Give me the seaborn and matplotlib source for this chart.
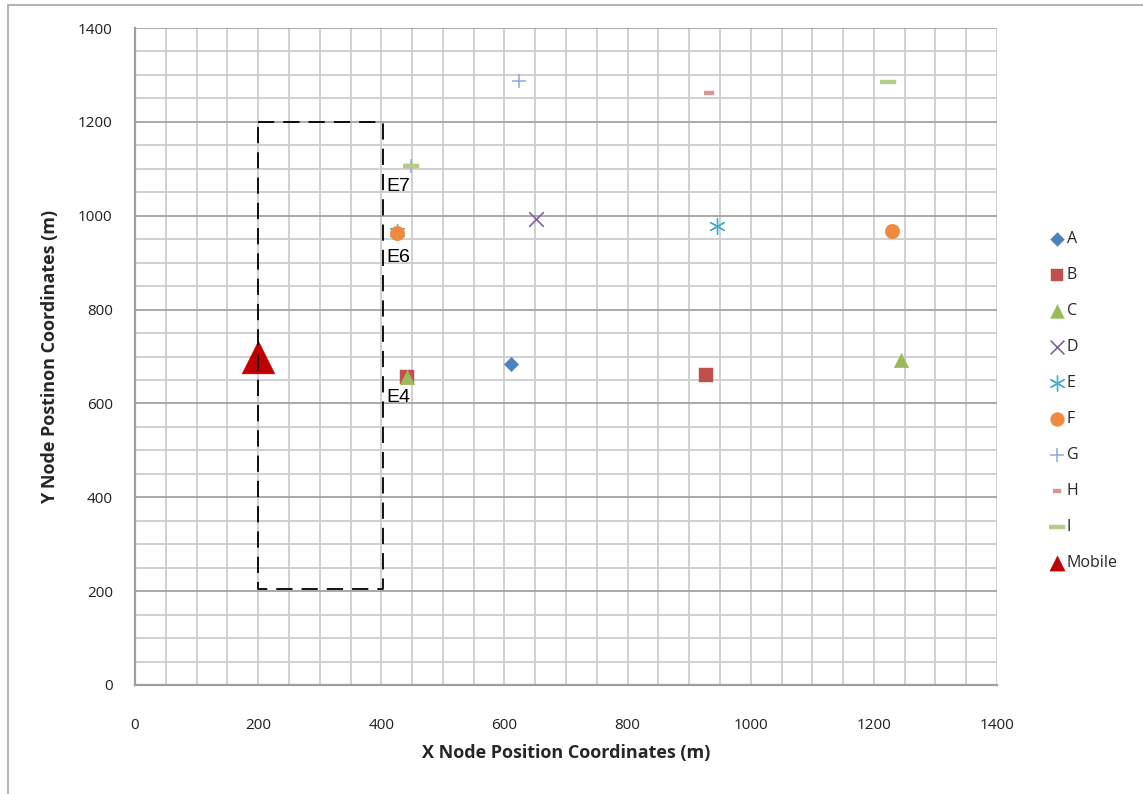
import numpy as np
import pandas as pd
import matplotlib
matplotlib.use("Agg")
import matplotlib.pyplot as plt
from matplotlib.patches import Rectangle
import seaborn as sns

sns.set_theme(style="white")
plt.rcParams["font.family"] = ["Open Sans", "DejaVu Sans"]

# Node positions per series (x, y in metres)
series = ["A", "B", "C", "D", "E", "F", "G", "H", "I", "Mobile"]
x_vals = {
    "A": [610],
    "B": [442, 928],
    "C": [442, 1244],
    "D": [652],
    "E": [425, 945],
    "F": [425, 1230],
    "G": [448, 623],
    "H": [448, 932],
    "I": [448, 1223],
    "Mobile": [200],
}
y_vals = {
    "A": [685],
    "B": [656, 660],
    "C": [656, 692],
    "D": [992],
    "E": [965, 978],
    "F": [963, 967],
    "G": [1106, 1287],
    "H": [1106, 1261],
    "I": [1106, 1284],
    "Mobile": [700],
}

# Annotated nodes
node_labels = ["E7", "E6", "E4"]
node_label_x = [408, 408, 408]
node_label_y = [1062, 912, 612]

# Coverage region of the mobile node
region_x = [200, 402]
region_y = [205, 1200]

colors = {
    "A": "#4F81BD", "B": "#C0504D", "C": "#9BBB59", "D": "#8064A2",
    "E": "#4BACC6", "F": "#F08A3E", "G": "#8EA9DB", "H": "#D99694",
    "I": "#B3CE8A", "Mobile": "#C00000",
}
bar_short = [(-1, -0.45), (1, -0.45), (1, 0.45), (-1, 0.45)]
bar_long = [(-1, -0.28), (1, -0.28), (1, 0.28), (-1, 0.28)]
markers = {
    "A": "D", "B": "s", "C": "^", "D": "x", "E": (6, 2, 0), "F": "o",
    "G": "+", "H": bar_short, "I": bar_long, "Mobile": "^",
}
sizes = {
    "A": 55, "B": 90, "C": 110, "D": 110, "E": 130, "F": 110,
    "G": 110, "H": 45, "I": 130, "Mobile": 560,
}
line_widths = {"D": 1.2, "E": 1.0, "G": 1.1}

fig = plt.figure(figsize=(11.43, 7.94), dpi=100)
ax = fig.add_axes([0.1181, 0.1373, 0.7542, 0.8274])

# outer chart frame
fig.patches.append(Rectangle((8 / 1143, -0.01), 1.02, 1 - 5 / 794 + 0.01,
                             transform=fig.transFigure, fill=False,
                             edgecolor="#A6A6A6", linewidth=1.2))

# grid: minor every 50, major horizontal lines every 200
for v in np.arange(50, 1401, 50):
    ax.axvline(v, color="#CDCDCD", linewidth=1.3, zorder=0)
for v in np.arange(50, 1401, 50):
    major = (v % 200 == 0)
    ax.axhline(v, color="#A3A3A3" if major else "#CDCDCD",
               linewidth=1.3, zorder=0)

for name in series:
    df = pd.DataFrame({"x": x_vals[name], "y": y_vals[name]})
    kw = dict(data=df, x="x", y="y", ax=ax, marker=markers[name],
              s=sizes[name], label=name, zorder=3, legend=False)
    if name in line_widths:
        sns.scatterplot(color=colors[name], linewidth=line_widths[name], **kw)
    else:
        sns.scatterplot(color=colors[name], edgecolor=colors[name],
                        linewidth=0.3, **kw)

# dashed region boundary
rx = [region_x[0], region_x[1], region_x[1], region_x[0], region_x[0]]
ry = [region_y[1], region_y[1], region_y[0], region_y[0], region_y[1]]
ax.plot(rx, ry, color="black", linewidth=1.3, dashes=(9, 5), zorder=4)

for lab, lx, ly in zip(node_labels, node_label_x, node_label_y):
    ax.text(lx, ly, lab, fontsize=14, color="black", ha="left",
            va="center", family=["Liberation Sans", "DejaVu Sans"], zorder=5)

ax.set_xlim(0, 1400)
ax.set_ylim(0, 1400)
ax.set_xticks(np.arange(0, 1401, 200))
ax.set_yticks(np.arange(0, 1401, 200))
ax.tick_params(axis="x", length=0, pad=24, labelsize=11, colors="#1F1F1F")
ax.tick_params(axis="y", length=0, pad=16, labelsize=11, colors="#1F1F1F")
for side in ["top", "right"]:
    ax.spines[side].set_visible(False)
for side in ["left", "bottom"]:
    ax.spines[side].set_color("#9E9E9E")
    ax.spines[side].set_linewidth(1.6)

ax.set_xlabel("X Node Position Coordinates (m)", fontsize=13,
              fontweight="bold", labelpad=8)
ax.set_ylabel("Y Node Postinon Coordinates (m)", fontsize=13,
              fontweight="bold", labelpad=14)

# legend
handles, labels = ax.get_legend_handles_labels()
leg = ax.legend(handles, labels, loc="center left",
                bbox_to_anchor=(1043 / 1143, 0.495),
                bbox_transform=fig.transFigure, frameon=False,
                fontsize=11.5, labelspacing=1.25, handletextpad=0.1,
                handlelength=1.0, borderaxespad=0, markerscale=0.95)
for h, name in zip(leg.legend_handles, labels):
    if name == "Mobile":
        h.set_sizes([120])

fig.savefig("out.png", dpi=100, facecolor="white")
